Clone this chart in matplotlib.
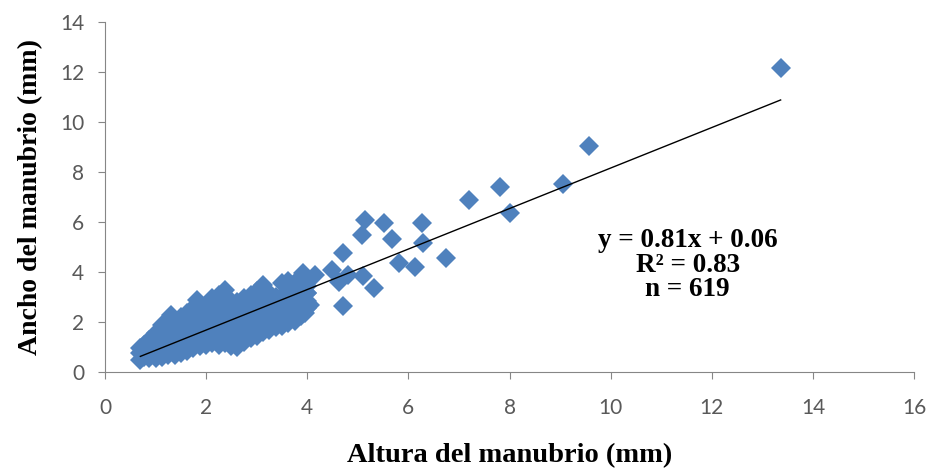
import matplotlib

matplotlib.use("Agg")
import matplotlib.pyplot as plt

SLOPE = 0.81
INTERCEPT = 0.06
R2 = 0.83
N = 619

# dense cloud, read column by column (x, then the y values stacked at that x)
cloud_x = [0.70, 0.78, 0.88, 1.00, 1.12, 1.25, 1.30, 1.38, 1.50, 1.62, 1.75,
           1.82, 1.88, 2.00, 2.12, 2.25, 2.37, 2.50, 2.62, 2.75, 2.88, 3.00,
           3.12, 3.25, 3.38, 3.50, 3.62, 3.75, 3.88, 4.00, 4.05]
cloud_y = [
    [0.50, 0.75, 0.95],
    [0.60, 0.85, 1.10],
    [0.55, 0.80, 1.05, 1.30],
    [0.58, 0.85, 1.10, 1.35, 1.55],
    [0.62, 0.90, 1.15, 1.40, 1.65, 1.90],
    [0.68, 0.95, 1.20, 1.50, 1.75, 2.00],
    [2.28],
    [0.70, 1.00, 1.30, 1.60, 1.85, 2.10],
    [0.75, 1.05, 1.35, 1.65, 1.95, 2.20],
    [0.85, 1.15, 1.45, 1.75, 2.05, 2.35],
    [0.95, 1.25, 1.55, 1.85, 2.15, 2.55],
    [2.88],
    [1.05, 1.35, 1.65, 1.95, 2.25, 2.60],
    [1.10, 1.40, 1.70, 2.00, 2.30, 2.55],
    [1.15, 1.45, 1.75, 2.05, 2.35, 2.65, 2.95],
    [1.10, 1.40, 1.70, 2.00, 2.30, 2.60, 2.90, 3.10],
    [1.15, 1.45, 1.75, 2.05, 2.35, 2.65, 2.95, 3.28],
    [1.05, 1.35, 1.65, 1.95, 2.25, 2.55, 2.85],
    [1.00, 1.30, 1.60, 1.90, 2.20, 2.50, 2.80],
    [1.20, 1.50, 1.80, 2.10, 2.40, 2.70, 2.95],
    [1.35, 1.65, 1.95, 2.25, 2.55, 2.85, 3.10],
    [1.45, 1.75, 2.05, 2.35, 2.65, 2.95, 3.25],
    [1.60, 1.90, 2.20, 2.50, 2.80, 3.10, 3.48],
    [1.70, 2.00, 2.30, 2.60, 2.90, 3.15],
    [1.80, 2.10, 2.40, 2.70, 3.00],
    [1.85, 2.15, 2.45, 2.75, 3.05, 3.55],
    [1.95, 2.25, 2.55, 2.85, 3.15, 3.45, 3.65],
    [2.05, 2.35, 2.65, 2.95, 3.25, 3.55],
    [2.25, 2.55, 2.85, 3.15, 3.45, 3.80],
    [2.55, 2.85, 3.15, 3.45, 3.75],
    [2.68],
]

# scattered points outside the cloud
spread_x = [13.36, 9.58, 9.05, 7.81, 7.19, 8.00, 5.14, 5.51, 6.26, 5.08, 5.67,
            6.28, 4.70, 5.81, 6.13, 6.74, 4.49, 5.10, 4.80, 4.62, 4.15, 3.91,
            5.32, 4.70, 3.99, 3.95]
spread_y = [12.16, 9.04, 7.52, 7.40, 6.88, 6.36, 6.08, 5.96, 5.96, 5.48, 5.32,
            5.16, 4.76, 4.36, 4.20, 4.56, 4.08, 3.84, 3.88, 3.60, 3.88, 3.96,
            3.36, 2.64, 3.16, 2.36]

xs = []
ys = []
for x, col in zip(cloud_x, cloud_y):
    for y in col:
        xs.append(x)
        ys.append(y)
xs += spread_x
ys += spread_y

fig = plt.figure(figsize=(9.29, 4.68), dpi=100)
ax = fig.add_axes([0.113, 0.205, 0.871, 0.748])

ax.plot(xs, ys, linestyle="none", marker="D", markersize=9.8,
        color="#4F81BD", markeredgewidth=0)

x0, x1 = min(xs), max(xs)
ax.plot([x0, x1], [SLOPE * x0 + INTERCEPT, SLOPE * x1 + INTERCEPT],
        color="black", linewidth=1)

ax.set_xlim(0, 16)
ax.set_ylim(0, 14)
ax.set_xticks(range(0, 17, 2))
ax.set_yticks(range(0, 15, 2))

for side in ["top", "right"]:
    ax.spines[side].set_visible(False)
for side in ["left", "bottom"]:
    ax.spines[side].set_color("#868686")
ax.tick_params(colors="#868686", length=5, labelcolor="#595959",
               labelsize=15)
ax.tick_params(axis="x", pad=14)
ax.tick_params(axis="y", pad=10)
for lab in ax.get_xticklabels() + ax.get_yticklabels():
    lab.set_family("Lato")

serif = dict(family="Liberation Serif", weight="bold")
ax.set_xlabel("Altura del manubrio (mm)", fontsize=20.5, labelpad=18, **serif)
ax.set_ylabel("Ancho del manubrio (mm)", fontsize=20, labelpad=12, **serif)

ax.text(11.52, 4.28, f"y = {SLOPE}x + {INTERCEPT}\nR² = {R2}\nn = {N}",
        ha="center", va="center", fontsize=19.5, linespacing=0.95, **serif)

fig.savefig("out.png")
